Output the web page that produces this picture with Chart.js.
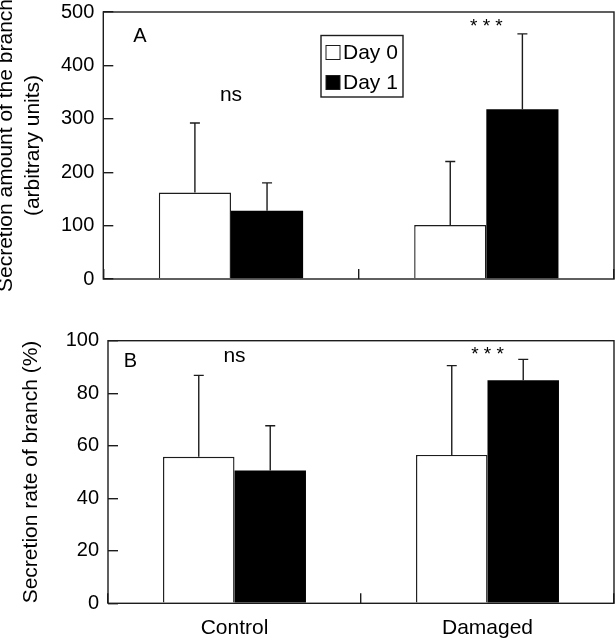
<!DOCTYPE html>
<html>
<head>
<meta charset="utf-8">
<script src="https://cdn.jsdelivr.net/npm/chart.js@4/dist/chart.umd.min.js"></script>
<style>
html, body { margin: 0; padding: 0; background: #fff; }
#wrapA { position: absolute; left: 0; top: 0; width: 615px; height: 300px; }
#wrapB { position: absolute; left: 0; top: 300px; width: 615px; height: 339px; }
canvas { display: block; }
</style>
</head>
<body>
<div id="wrapA"><canvas id="cA" width="615" height="300"></canvas></div>
<div id="wrapB"><canvas id="cB" width="615" height="339"></canvas></div>
<script>
// ---- data ----
const categories = ['Control', 'Damaged'];
const seriesNames = ['Day 0', 'Day 1'];

// Panel A: secretion amount (arbitrary units)
const amountDay0 = [162, 101];
const amountDay1 = [128, 318];
const amountErrDay0 = [130, 119];
const amountErrDay1 = [52, 141];
const amountTicks = [0, 100, 200, 300, 400, 500];
const amountSig = ['ns', '* * *'];

// Panel B: secretion rate (%)
const rateDay0 = [55.8, 56.5];
const rateDay1 = [50.6, 84.9];
const rateErrDay0 = [31, 34];
const rateErrDay1 = [17, 8];
const rateTicks = [0, 20, 40, 60, 80, 100];
const rateSig = ['ns', '* * *'];

// ---- style ----
const FONT = '"Liberation Sans", Arial, Helvetica, sans-serif';
const INK = '#1c1c1c';
const LW = 1.4;

const errorBars = {
  id: 'errorBars',
  afterDatasetsDraw(chart) {
    const ctx = chart.ctx, y = chart.scales.y;
    ctx.save();
    ctx.strokeStyle = INK;
    ctx.lineWidth = LW;
    chart.data.datasets.forEach((ds, di) => {
      const meta = chart.getDatasetMeta(di);
      meta.data.forEach((bar, i) => {
        const top = y.getPixelForValue(ds.data[i] + ds.errors[i]);
        const x = bar.x;
        ctx.beginPath();
        ctx.moveTo(x, bar.y);
        ctx.lineTo(x, top);
        ctx.moveTo(x - 5, top);
        ctx.lineTo(x + 5, top);
        ctx.stroke();
      });
    });
    ctx.restore();
  }
};

const panelDecor = {
  id: 'panelDecor',
  afterDraw(chart, args, opts) {
    const ctx = chart.ctx, a = chart.chartArea;
    const xs = chart.scales.x, ys = chart.scales.y;
    ctx.save();
    // frame
    ctx.strokeStyle = INK;
    ctx.lineWidth = LW;
    ctx.strokeRect(a.left, a.top, a.right - a.left, a.bottom - a.top);
    // panel letter
    ctx.fillStyle = '#000';
    ctx.font = '20px ' + FONT;
    ctx.textAlign = 'center';
    ctx.textBaseline = 'middle';
    ctx.fillText(opts.letter, a.left + opts.letterPos[0], a.top + opts.letterPos[1]);
    // significance marks
    opts.sig.forEach((s, i) => {
      ctx.font = (s === 'ns' ? '21px ' : '19px ') + FONT;
      ctx.fillText(s, xs.getPixelForValue(i), ys.getPixelForValue(opts.sigLevels[i]));
    });
    // legend
    if (opts.legend) {
      const L = opts.legend;
      const bx = a.left + L.x, by = a.top + L.y;
      ctx.lineWidth = LW;
      ctx.strokeStyle = INK;
      ctx.strokeRect(bx, by, L.w, L.h);
      ctx.font = '21px ' + FONT;
      ctx.textAlign = 'left';
      chart.data.datasets.forEach((ds, di) => {
        const cy = by + L.row0 + di * L.rowGap;
        ctx.fillStyle = ds.backgroundColor;
        ctx.fillRect(bx + 5, cy - 7, 14, 14);
        ctx.strokeStyle = INK;
        ctx.lineWidth = 1;
        ctx.strokeRect(bx + 5, cy - 7, 14, 14);
        ctx.fillStyle = '#000';
        ctx.fillText(ds.label, bx + 22, cy + 1);
      });
    }
    ctx.restore();
  }
};

function makePanel(canvasId, d0, d1, e0, e1, ticks, titleText, titlePad, yWidth, xHeight, showX, padTop, decor) {
  return new Chart(document.getElementById(canvasId), {
    type: 'bar',
    data: {
      labels: categories,
      datasets: [
        { label: seriesNames[0], data: d0, errors: e0, backgroundColor: '#ffffff', borderColor: INK, borderWidth: LW },
        { label: seriesNames[1], data: d1, errors: e1, backgroundColor: '#000000', borderColor: '#000000', borderWidth: 0 }
      ]
    },
    options: {
      responsive: false,
      animation: false,
      devicePixelRatio: 1,
      layout: { padding: { top: padTop, right: 1, bottom: 0, left: 0 } },
      datasets: { bar: { categoryPercentage: 0.565, barPercentage: 1 } },
      plugins: { legend: { display: false }, tooltip: { enabled: false }, panelDecor: decor },
      scales: {
        x: {
          type: 'category',
          offset: true,
          border: { display: false },
          grid: { offset: true, drawOnChartArea: false, drawTicks: true, tickLength: -10, color: INK, lineWidth: LW },
          ticks: { display: showX, font: { family: FONT, size: 21 }, color: '#000', padding: 22.4, maxRotation: 0, autoSkip: false },
          afterFit: s => { s.height = xHeight; s.paddingLeft = 0; s.paddingRight = 0; }
        },
        y: {
          min: ticks[0],
          max: ticks[ticks.length - 1],
          afterBuildTicks: s => { s.ticks = ticks.map(v => ({ value: v })); },
          border: { display: false },
          grid: { drawOnChartArea: false, drawTicks: true, tickLength: -10, color: INK, lineWidth: LW },
          ticks: { font: { family: FONT, size: 20 }, color: '#000', padding: 19 },
          title: { display: true, text: titleText, color: '#000', font: { family: FONT, size: 21, lineHeight: 1.3 }, padding: { top: titlePad, bottom: 0 } },
          afterFit: s => { s.width = yWidth; s.paddingTop = 0; s.paddingBottom = 0; }
        }
      }
    },
    plugins: [errorBars, panelDecor]
  });
}

makePanel('cA', amountDay0, amountDay1, amountErrDay0, amountErrDay1, amountTicks,
  ['Secretion amount of the branch', '(arbitrary units)'], -7.6, 103.3, 21, false, 12,
  { letter: 'A', letterPos: [36.7, 24.7], sig: amountSig, sigLevels: [345, 472],
    legend: { x: 217.7, y: 23.5, w: 82, h: 61.5, row0: 17, rowGap: 30 } });

makePanel('cB', rateDay0, rateDay1, rateErrDay0, rateErrDay1, rateTicks,
  'Secretion rate of branch (%)', 18, 108, 35.7, true, 40.7,
  { letter: 'B', letterPos: [22.3, 21], sig: rateSig, sigLevels: [94.2, 94.6], legend: null });
</script>
</body>
</html>
